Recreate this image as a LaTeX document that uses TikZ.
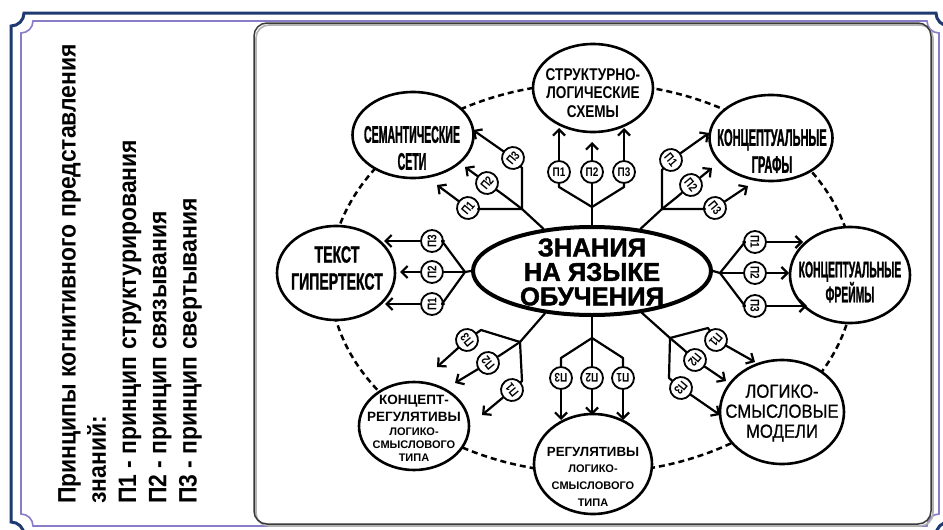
\documentclass[tikz,border=0pt]{standalone}
\usepackage{fontspec}
\setmainfont{Liberation Sans}
\newfontfamily\heavyfont[FakeBold=1.6]{Liberation Sans Bold}
\newfontfamily\rbold{Liberation Sans Bold}
\newfontfamily\semfont[FakeStretch=0.44,FakeBold=1]{Liberation Sans Bold}
\newfontfamily\graphfont[FakeStretch=0.46,FakeBold=1]{Liberation Sans Bold}
\newfontfamily\hyperfont[FakeStretch=0.6,FakeBold=1]{Liberation Sans Bold}
\newfontfamily\structfont[FakeStretch=0.8]{Liberation Sans Bold}
\newfontfamily\legendfont[FakeStretch=0.91]{Liberation Sans Bold}
\newfontfamily\pfont[FakeStretch=0.8]{Liberation Sans Bold}
\newfontfamily\narrowfont[FakeStretch=0.88,FakeBold=0.8]{Liberation Sans}
\usetikzlibrary{arrows.meta,shapes.geometric}

\newcommand\fsz[2]{\fontsize{#1}{#2}\selectfont}

% frame with concave (notched) corners: x0, ytop, x1, ybottom, notch radius
\newcommand\notchframe[5]{%
  (#1+#5,#2) -- (#3-#5,#2) arc[start angle=180,end angle=270,radius=#5pt]
  -- (#3,#4+#5) arc[start angle=90,end angle=180,radius=#5pt]
  -- (#1+#5,#4) arc[start angle=0,end angle=90,radius=#5pt]
  -- (#1,#2-#5) arc[start angle=270,end angle=360,radius=#5pt] -- cycle}

% one branch of a fork: name, fork point, turn, circle centre, arrow tip, label, label rotation
\newcommand\pbranch[7]{%
  \coordinate (#1-turn) at #3;
  \coordinate (#1-tip) at #5;
  \node[pcirc, rotate=#7] (#1) at #4 {#6};
  \draw[wire] (#2) -- (#1-turn) -- (#1);
  \draw[wire, arr] (#1) -- (#1-tip);
}

\definecolor{navy}{HTML}{1F3A70}
\definecolor{lilac}{HTML}{8A7CC8}
\definecolor{panelgray}{HTML}{3A3A3A}

\begin{document}
\begin{tikzpicture}[x=1pt,y=1pt,
  wire/.style={line width=2.2pt, line join=round, line cap=round, black},
  arr/.style={-{Straight Barb[length=6pt,width=12pt]}},
  topic/.style={ellipse, draw, line width=2.6pt, fill=white, inner sep=0pt},
  pcirc/.style={circle, draw, line width=1.8pt, fill=white, minimum size=22pt,
    inner sep=0pt, font=\pfont\fsz{12.5}{12.5}},
  lbl/.style={align=center, inner sep=0pt},
  dashring/.style={line width=2.5pt, dash pattern=on 6pt off 4pt}]

\useasboundingbox (0,0) rectangle (943,-530);
\fill[white] (0,0) rectangle (943,-530);

% outer decorative frame
\draw[navy, line width=3pt] \notchframe{11}{-13}{949}{-535}{13};
\draw[lilac, line width=1.6pt] \notchframe{21}{-21}{939}{-526}{12};

% inner panel with a soft shadow
\draw[gray!60, line width=1.6pt, rounded corners=13pt] (256,-25) rectangle (933,-526);
\draw[panelgray, line width=1.5pt, rounded corners=13pt] (254,-23) rectangle (931,-524);

% legend, set vertically
\node[rotate=90, anchor=north west, align=left, inner sep=0pt,
  font=\legendfont\fsz{25.2}{30.3}] (legend) at (58,-504)
  {Принципы когнитивного представления\\знаний:\\П1 - принцип структурирования\\П2 - принцип связывания\\П3 - принцип свертывания};

% dashed ring through the eight forms
\draw[dashring] (592,-278) ellipse [x radius=262pt, y radius=195pt];

% the eight forms
\node[topic, minimum width=120pt, minimum height=88pt] (struct) at (593,-88) {};
\node[topic, minimum width=121pt, minimum height=86pt] (sem) at (413,-135) {};
\node[topic, minimum width=123pt, minimum height=86pt] (graph) at (771,-138) {};
\node[topic, minimum width=120pt, minimum height=96pt] (frame) at (850,-275) {};
\node[topic, minimum width=124pt, minimum height=104pt] (logic) at (782,-412) {};
\node[topic, minimum width=118pt, minimum height=100pt] (reg) at (593,-464) {};
\node[topic, minimum width=110pt, minimum height=88pt] (cr) at (414,-426) {};
\node[topic, minimum width=118pt, minimum height=94pt] (text) at (336,-273) {};

% central form
\node[ellipse, draw, line width=4pt, minimum width=238pt, minimum height=88pt,
  inner sep=0pt, fill=white] (core) at (592,-271) {};
\node[lbl, font=\heavyfont\fsz{25.6}{24.5}] (core-t) at (592,-272) {ЗНАНИЯ\\НА ЯЗЫКЕ\\ОБУЧЕНИЯ};

% labels of the forms
\node[lbl, font=\structfont\fsz{17}{18.5}] (struct-t) at (593,-93) {СТРУКТУРНО-\\ЛОГИЧЕСКИЕ\\СХЕМЫ};
\node[lbl, font=\semfont\fsz{24}{27}] (sem-t) at (412,-148) {СЕМАНТИЧЕСКИЕ\\СЕТИ};
\node[lbl, font=\graphfont\fsz{24}{27}] (graph-t) at (772,-151) {КОНЦЕПТУАЛЬНЫЕ\\ГРАФЫ};
\node[lbl, font=\graphfont\fsz{22.5}{25}] (frame-t) at (850,-282) {КОНЦЕПТУАЛЬНЫЕ\\ФРЕЙМЫ};
\node[lbl, font=\hyperfont\fsz{23.5}{27}] (text-t) at (337,-268) {ТЕКСТ\\ГИПЕРТЕКСТ};
\node[lbl, font=\narrowfont\fsz{19}{20}] (logic-t) at (782,-413) {ЛОГИКО-\\СМЫСЛОВЫЕ\\МОДЕЛИ};
\node[lbl, font=\rbold\fsz{13.5}{17}] (cr-t1) at (414,-408) {КОНЦЕПТ-\\РЕГУЛЯТИВЫ};
\node[lbl, font=\rbold\fsz{11}{13}] (cr-t2) at (414,-445) {ЛОГИКО-\\СМЫСЛОВОГО\\ТИПА};
\node[lbl, font=\rbold\fsz{13.3}{17}] (reg-t1) at (593,-452) {РЕГУЛЯТИВЫ};
\node[lbl, font=\rbold\fsz{11}{17}] (reg-t2) at (593,-486) {ЛОГИКО-\\СМЫСЛОВОГО\\ТИПА};

% fork towards the structural-logical schemes
\coordinate (tB) at (592,-207);
\draw[wire] (core.90) -- (tB);
\pbranch{t1}{tB}{(559,-187)}{(559,-172)}{(559,-128)}{П1}{0}
\pbranch{t2}{tB}{(592,-190)}{(592,-172)}{(592,-142)}{П2}{0}
\pbranch{t3}{tB}{(624,-187)}{(624,-172)}{(624,-128)}{П3}{0}

% fork towards the semantic nets
\coordinate (sB) at (522,-209);
\draw[wire] (core.139) -- (sB);
\pbranch{s1}{sB}{(478,-209)}{(468,-208)}{(437,-185)}{П1}{50}
\pbranch{s2}{sB}{(505,-196)}{(487,-183)}{(465,-167)}{П2}{50}
\pbranch{s3}{sB}{(522,-168)}{(513,-158)}{(473,-130)}{П3}{50}

% fork towards the conceptual graphs
\coordinate (gB) at (662,-209);
\draw[wire] (core.41) -- (gB);
\pbranch{g1}{gB}{(662,-170)}{(671,-160)}{(709,-133)}{П1}{-50}
\pbranch{g2}{gB}{(677,-197)}{(691,-185)}{(712,-168)}{П2}{-50}
\pbranch{g3}{gB}{(705,-209)}{(715,-208)}{(748,-186)}{П3}{-50}

% fork towards text / hypertext
\coordinate (xB) at (465,-272);
\draw[wire] (core.180) -- (xB);
\pbranch{x1}{xB}{(442,-304)}{(432,-304)}{(385,-304)}{П1}{90}
\pbranch{x2}{xB}{(450,-272)}{(432,-272)}{(400,-272)}{П2}{90}
\pbranch{x3}{xB}{(442,-241)}{(432,-241)}{(384,-241)}{П3}{90}

% fork towards the conceptual frames
\coordinate (fB) at (720,-273);
\draw[wire] (core.0) -- (fB);
\pbranch{f1}{fB}{(745,-242)}{(755,-242)}{(803,-242)}{П1}{-90}
\pbranch{f2}{fB}{(735,-273)}{(755,-273)}{(789,-273)}{П2}{-90}
\pbranch{f3}{fB}{(745,-306)}{(755,-306)}{(807,-306)}{П3}{-90}

% fork towards the logical-semantic models
\coordinate (lB) at (670,-338);
\draw[wire] (core.-40) -- (lB);
\pbranch{l1}{lB}{(708,-328)}{(716,-340)}{(755,-362)}{П1}{-130}
\pbranch{l2}{lB}{(683,-349)}{(695,-360)}{(726,-381)}{П2}{-130}
\pbranch{l3}{lB}{(669,-378)}{(681,-388)}{(720,-415)}{П3}{-130}

% fork towards the regulatives
\coordinate (rB) at (592,-338);
\draw[wire] (core.-90) -- (rB);
\pbranch{r1}{rB}{(623,-358)}{(623,-378)}{(623,-420)}{П1}{180}
\pbranch{r2}{rB}{(592,-358)}{(592,-378)}{(592,-415)}{П2}{180}
\pbranch{r3}{rB}{(561,-358)}{(561,-378)}{(561,-420)}{П3}{180}

% fork towards the concept-regulatives
\coordinate (kB) at (520,-342);
\draw[wire] (core.-138) -- (kB);
\pbranch{k1}{kB}{(522,-381)}{(512,-390)}{(482,-415)}{П1}{130}
\pbranch{k2}{kB}{(505,-352)}{(488,-363)}{(455,-383)}{П2}{130}
\pbranch{k3}{kB}{(481,-330)}{(467,-340)}{(437,-367)}{П3}{130}

\end{tikzpicture}
\end{document}
